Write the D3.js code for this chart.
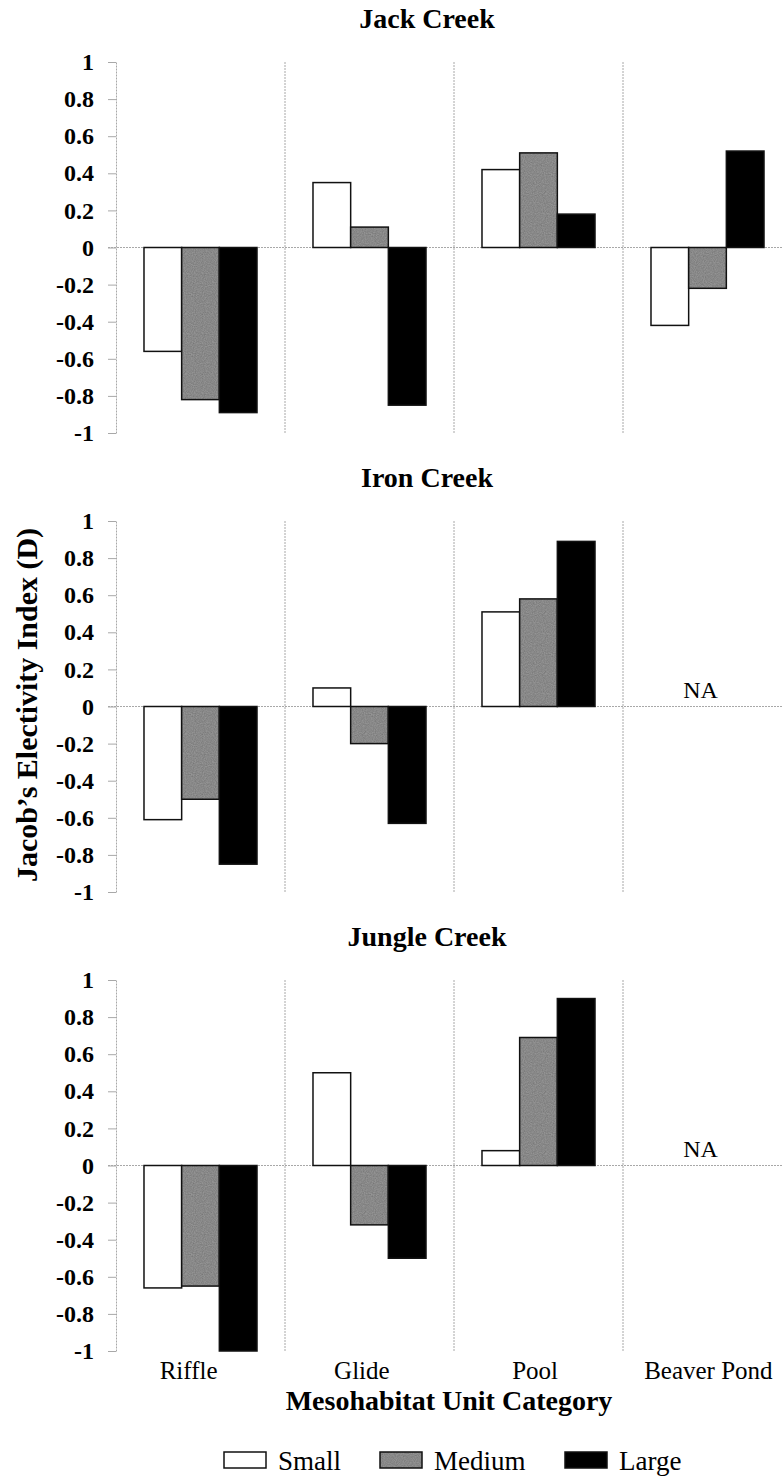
<!DOCTYPE html>
<html>
<head>
<meta charset="utf-8">
<script src="https://cdn.jsdelivr.net/npm/d3@7"></script>
<style>
  html, body { margin: 0; padding: 0; background: #fff; }
  svg { display: block; }
  text { font-family: "Liberation Serif", "Times New Roman", serif; fill: #000; }
</style>
</head>
<body>
<svg id="chart" width="783" height="1477"></svg>
<script>
// ---------------- DATA ----------------
const categories = ["Riffle", "Glide", "Pool", "Beaver Pond"];
const sizeClasses = ["Small", "Medium", "Large"];
const panelTitles = ["Jack Creek", "Iron Creek", "Jungle Creek"];

// values per size class, ordered by category (null = NA)
const jackSmall  = [-0.56, 0.35, 0.42, -0.42];
const jackMedium = [-0.82, 0.11, 0.51, -0.22];
const jackLarge  = [-0.89, -0.85, 0.18, 0.52];

const ironSmall  = [-0.61, 0.10, 0.51, null];
const ironMedium = [-0.50, -0.20, 0.58, null];
const ironLarge  = [-0.85, -0.63, 0.89, null];

const jungleSmall  = [-0.66, 0.50, 0.08, null];
const jungleMedium = [-0.65, -0.32, 0.69, null];
const jungleLarge  = [-1.00, -0.50, 0.90, null];

const yTicks = [1, 0.8, 0.6, 0.4, 0.2, 0, -0.2, -0.4, -0.6, -0.8, -1];
const yTitle = "Jacob\u2019s Electivity Index (D)";
const xTitle = "Mesohabitat Unit Category";
const naLabel = "NA";

// ---------------- LAYOUT ----------------
const svg = d3.select("#chart");
const serif = '"Liberation Serif", "Times New Roman", serif';
const left = 116, right = 792;
const panelTop0 = 62, panelStep = 459, panelH = 371;
const fills = { Small: "#ffffff", Medium: "url(#medTex)", Large: "#000000" };
const gridColor = "#a8a8a8";

// textured gray for Medium
const defs = svg.append("defs");
const filt = defs.append("filter").attr("id", "noise").attr("x", 0).attr("y", 0)
  .attr("width", "100%").attr("height", "100%");
filt.append("feTurbulence").attr("type", "fractalNoise").attr("baseFrequency", 0.9)
  .attr("numOctaves", 2).attr("seed", 3).attr("result", "t");
filt.append("feColorMatrix").attr("in", "t").attr("type", "matrix")
  .attr("values", "0 0 0 0 0  0 0 0 0 0  0 0 0 0 0  0 0 0 0.55 -0.1").attr("result", "n");
filt.append("feComposite").attr("in", "n").attr("in2", "SourceGraphic").attr("operator", "atop");
const pat = defs.append("pattern").attr("id", "medTex").attr("patternUnits", "userSpaceOnUse")
  .attr("width", 60).attr("height", 60);
pat.append("rect").attr("width", 60).attr("height", 60).attr("fill", "#959595");
pat.append("rect").attr("width", 60).attr("height", 60).attr("fill", "#959595")
  .attr("filter", "url(#noise)");

const panelData = [
  [jackSmall, jackMedium, jackLarge],
  [ironSmall, ironMedium, ironLarge],
  [jungleSmall, jungleMedium, jungleLarge]
];

const x = d3.scaleBand().domain(categories).range([left, right]).padding(0);
const xs = d3.scaleBand().domain(sizeClasses).range([0, x.bandwidth()])
  .paddingInner(0).paddingOuter(0.743);
// category labels sit on a slightly wider spacing in the original
const xLabel = d3.scaleBand().domain(categories).range([102, 795]).padding(0);

panelData.forEach((series, pi) => {
  const top = panelTop0 + pi * panelStep;
  const y = d3.scaleLinear().domain([-1, 1]).range([top + panelH, top]);
  const g = svg.append("g");

  // title
  g.append("text")
    .attr("x", 427).attr("y", top - 34)
    .attr("text-anchor", "middle")
    .style("font-family", serif)
    .attr("font-size", 28).attr("font-weight", "bold")
    .text(panelTitles[pi]);

  // vertical category separators
  g.selectAll("line.sep").data(categories.slice(1)).enter().append("line")
    .attr("x1", d => x(d)).attr("x2", d => x(d))
    .attr("y1", y(1)).attr("y2", y(-1))
    .attr("stroke", gridColor).attr("stroke-width", 1)
    .attr("stroke-dasharray", "2,1");

  // zero line
  g.append("line")
    .attr("x1", left - 8).attr("x2", right)
    .attr("y1", y(0)).attr("y2", y(0))
    .attr("stroke", gridColor).attr("stroke-width", 1)
    .attr("stroke-dasharray", "2,1");

  // y axis
  const ax = g.append("g").attr("transform", `translate(${left},0)`)
    .call(d3.axisLeft(y).tickValues(yTicks).tickSize(8).tickSizeOuter(0)
      .tickPadding(14).tickFormat(d => String(d)));
  ax.attr("font-family", null).attr("font-size", null);
  ax.select(".domain").attr("stroke", gridColor).attr("stroke-dasharray", "2,1");
  ax.selectAll(".tick line").attr("stroke", gridColor);
  ax.selectAll(".tick text")
    .style("font-family", serif)
    .style("font-size", "24px").style("font-weight", "bold").attr("fill", "#000");

  // bars
  sizeClasses.forEach((s, si) => {
    const vals = series[si].map((v, ci) => ({ cat: categories[ci], v }))
      .filter(d => d.v !== null);
    g.selectAll(`rect.b${si}`).data(vals).enter().append("rect")
      .attr("x", d => x(d.cat) + xs(s))
      .attr("width", xs.bandwidth())
      .attr("y", d => y(Math.max(0, d.v)))
      .attr("height", d => Math.abs(y(d.v) - y(0)))
      .attr("fill", fills[s])
      .attr("stroke", "#111").attr("stroke-width", 1.5);
  });

  // NA labels
  const naCats = categories.filter((c, ci) => series[0][ci] === null);
  g.selectAll("text.na").data(naCats).enter().append("text")
    .attr("x", d => x(d) + x.bandwidth() / 2 - 7)
    .attr("y", y(0) - 9)
    .attr("text-anchor", "middle")
    .style("font-family", serif)
    .attr("font-size", 24)
    .text(naLabel);

  // category labels only under last panel
  if (pi === panelData.length - 1) {
    g.selectAll("text.cat").data(categories).enter().append("text")
      .attr("x", d => xLabel(d) + xLabel.bandwidth() / 2)
      .attr("y", top + panelH + 28)
      .attr("text-anchor", "middle")
      .style("font-family", serif)
      .attr("font-size", 25)
      .text(d => d);
  }
});

// y-axis title
svg.append("text")
  .attr("transform", "translate(37,705) rotate(-90)")
  .attr("text-anchor", "middle")
  .style("font-family", serif)
  .attr("font-size", 29).attr("font-weight", "bold")
  .attr("textLength", 354).attr("lengthAdjust", "spacingAndGlyphs")
  .text(yTitle);

// x-axis title
svg.append("text")
  .attr("x", 449).attr("y", 1410)
  .attr("text-anchor", "middle")
  .style("font-family", serif)
  .attr("font-size", 28).attr("font-weight", "bold")
  .text(xTitle);

// legend
const legendX = { Small: 224, Medium: 380, Large: 565 };
const lg = svg.append("g");
sizeClasses.forEach(s => {
  lg.append("rect")
    .attr("x", legendX[s]).attr("y", 1452)
    .attr("width", 42).attr("height", 16)
    .attr("fill", fills[s]).attr("stroke", "#111").attr("stroke-width", 1.5);
  lg.append("text")
    .attr("x", legendX[s] + 54).attr("y", 1470)
    .style("font-family", serif)
    .attr("font-size", 27)
    .text(s);
});
</script>
</body>
</html>
